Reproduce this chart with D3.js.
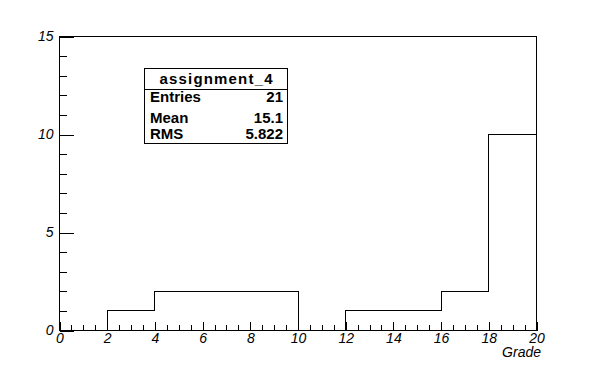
<!DOCTYPE html>
<html>
  <head>
    <meta charset="utf-8">
    <script src="https://d3js.org/d3.v7.min.js"></script>
    <title>assignment_4</title>
    <style>
      body { margin: 0px; background: #fff; }
      .domain { display: none; }
      .tick line { stroke: #000; shape-rendering: crispEdges; }
      .tick text {
        fill: #000;
        font-size: 14px;
        font-style: italic;
        font-family: "Liberation Sans", Arial, sans-serif;
      }
      .stats text {
        font-family: "Liberation Sans", Arial, sans-serif;
        font-weight: bold;
        font-size: 15px;
      }
    </style>
  </head>
  <body>
    <svg width="596" height="368"></svg>
    <script>
      // histogram: 10 bins of width 2 from 0 to 20
      const binEdges = [0, 2, 4, 6, 8, 10, 12, 14, 16, 18, 20];
      const binCounts = [0, 1, 2, 2, 2, 0, 1, 1, 2, 10];
      const xMajorTicks = [0, 2, 4, 6, 8, 10, 12, 14, 16, 18, 20];
      const xMinorTicks = d3.range(0, 20.01, 0.5);
      const yMajorTicks = [0, 5, 10, 15];
      const yMinorTicks = d3.range(0, 15.01, 1);
      const xLabel = 'Grade';
      const statTitle = 'assignment_4';
      const statNames = ['Entries', 'Mean', 'RMS'];
      const statValues = ['21', '15.1', '5.822'];

      const margin = { left: 59.5, right: 59.5, top: 36.5, bottom: 37.5 };
      const svg = d3.select('svg');
      const width = +svg.attr('width');
      const height = +svg.attr('height');
      const innerWidth = width - margin.left - margin.right;
      const innerHeight = height - margin.top - margin.bottom;

      const g = svg.append('g')
          .attr('transform', `translate(${margin.left},${margin.top})`);

      const xScale = d3.scaleLinear().domain([0, 20]).range([0, innerWidth]);
      const yScale = d3.scaleLinear().domain([0, 15]).range([innerHeight, 0]);

      // minor ticks (no labels)
      g.append('g')
          .attr('transform', `translate(0,${innerHeight})`)
          .call(d3.axisBottom(xScale).tickValues(xMinorTicks)
            .tickSize(-6).tickSizeOuter(0))
          .selectAll('text').remove();
      g.append('g')
          .call(d3.axisLeft(yScale).tickValues(yMinorTicks)
            .tickSize(-7).tickSizeOuter(0))
          .selectAll('text').remove();

      // major ticks with labels
      g.append('g')
          .attr('transform', `translate(0,${innerHeight})`)
          .call(d3.axisBottom(xScale).tickValues(xMajorTicks)
            .tickSize(-9).tickSizeOuter(0).tickPadding(3)
            .tickFormat(d3.format('d')));
      g.append('g')
          .call(d3.axisLeft(yScale).tickValues(yMajorTicks)
            .tickSize(-14).tickSizeOuter(0).tickPadding(6)
            .tickFormat(d3.format('d')));

      // frame
      g.append('rect')
          .attr('x', 0).attr('y', 0)
          .attr('width', innerWidth).attr('height', innerHeight)
          .attr('fill', 'none')
          .attr('stroke', '#000')
          .attr('shape-rendering', 'crispEdges');

      // histogram outline
      const steps = [];
      binCounts.forEach((c, i) => {
        steps.push([binEdges[i], c]);
        steps.push([binEdges[i + 1], c]);
      });
      steps.unshift([binEdges[0], 0]);
      steps.push([binEdges[binEdges.length - 1], 0]);
      const line = d3.line()
          .x(d => xScale(d[0]))
          .y(d => yScale(d[1]));
      g.append('path')
          .datum(steps)
          .attr('d', line)
          .attr('fill', 'none')
          .attr('stroke', '#000')
          .attr('stroke-width', 1)
          .attr('shape-rendering', 'crispEdges');

      // axis title
      svg.append('text')
          .attr('x', 541)
          .attr('y', 357)
          .attr('text-anchor', 'end')
          .style('font-family', '"Liberation Sans", Arial, sans-serif')
          .style('font-style', 'italic')
          .style('font-size', '14px')
          .text(xLabel);

      // stats box
      const stats = svg.append('g').attr('class', 'stats');
      stats.append('rect')
          .attr('x', 144.5).attr('y', 68.5)
          .attr('width', 143).attr('height', 75)
          .attr('fill', '#fff')
          .attr('stroke', '#000')
          .attr('shape-rendering', 'crispEdges');
      stats.append('line')
          .attr('x1', 144.5).attr('x2', 287.5)
          .attr('y1', 89.5).attr('y2', 89.5)
          .attr('stroke', '#000')
          .attr('shape-rendering', 'crispEdges');
      stats.append('text')
          .attr('x', 216)
          .attr('y', 83.5)
          .attr('text-anchor', 'middle')
          .attr('textLength', 113)
          .attr('lengthAdjust', 'spacing')
          .text(statTitle);
      const rowY = [101.5, 122.5, 139];
      stats.selectAll('text.name').data(statNames)
        .enter().append('text')
          .attr('class', 'name')
          .attr('x', 150)
          .attr('y', (d, i) => rowY[i])
          .text(d => d);
      stats.selectAll('text.value').data(statValues)
        .enter().append('text')
          .attr('class', 'value')
          .attr('x', 283)
          .attr('y', (d, i) => rowY[i])
          .attr('text-anchor', 'end')
          .text(d => d);
    </script>
  </body>
</html>
